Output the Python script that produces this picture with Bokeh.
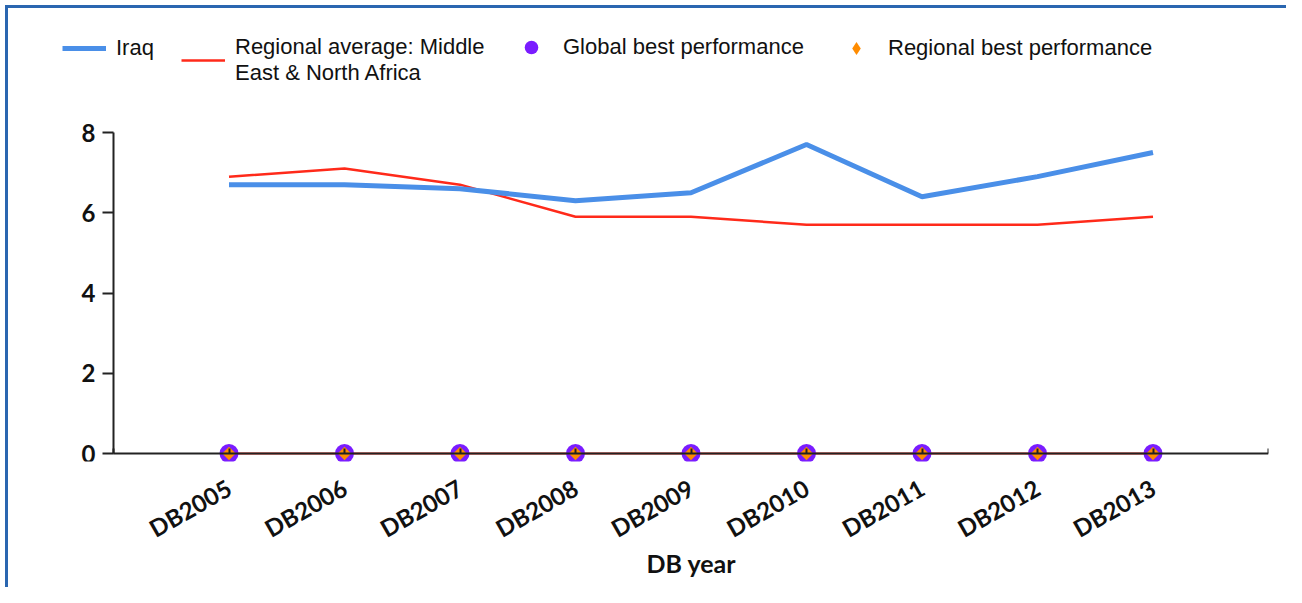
from bokeh.plotting import figure
from bokeh.models import (Range1d, FixedTicker, Legend, LegendItem, ColumnDataSource,
                          LinearAxis, Title)
from bokeh.embed import file_html
from bokeh.resources import INLINE

years = ["DB2005", "DB2006", "DB2007", "DB2008", "DB2009", "DB2010", "DB2011", "DB2012", "DB2013"]
iraq = [6.7, 6.7, 6.6, 6.3, 6.5, 7.7, 6.4, 6.9, 7.5]
regional_avg = [6.9, 7.1, 6.7, 5.9, 5.9, 5.7, 5.7, 5.7, 5.9]
global_best = [0, 0, 0, 0, 0, 0, 0, 0, 0]
regional_best = [0, 0, 0, 0, 0, 0, 0, 0, 0]
y_ticks = [0, 2, 4, 6, 8]

xpos = list(range(1, len(years) + 1))
src = ColumnDataSource(dict(x=xpos, iraq=iraq, reg=regional_avg, gb=global_best, rb=regional_best))

W, H = 1286, 587
FL, FR, FT, FB = 50, 1268, 25, 461          # frame edges in pixels
AX0, AXR, Y0, Y8 = 113, 1268, 453, 132      # axis pixel positions
n = len(years) + 1
pxu = (AXR - AX0) / n
pyu = (Y0 - Y8) / 8.0
x_start = -(AX0 - FL) / pxu
y_end = 8 + (Y8 - FT) / pyu
y_start = -(FB - Y0) / pyu

p = figure(width=W, height=H, output_backend="svg", toolbar_location=None,
           x_range=Range1d(x_start, n), y_range=Range1d(y_start, y_end),
           min_border_left=FL, min_border_right=W - FR, min_border_top=FT,
           min_border_bottom=H - FB)
p.border_fill_color = None
p.background_fill_color = None
p.styles = {
    "background-color": "white",
    "background-image": "linear-gradient(#2a66b0,#2a66b0), linear-gradient(#2a66b0,#2a66b0)",
    "background-size": "3px 100%, 100% 3px",
    "background-position": "5px 5px, 5px 5px",
    "background-repeat": "no-repeat",
}
p.outline_line_color = None
p.xgrid.visible = False
p.ygrid.visible = False

r_reg = p.line("x", "reg", source=src, line_color="#ff2a1a", line_width=2.5)
r_iraq = p.line("x", "iraq", source=src, line_color="#4a8fe8", line_width=5)
r_zero = p.line("x", "gb", source=src, line_color="#ff2a1a", line_width=2)
r_gb = p.scatter("x", "gb", source=src, marker="circle", size=19, fill_color="#7a1cff",
                 line_color=None)
# legend key for the regional best (covered in the plot by the rotated square below)
r_rb_key = p.scatter("x", "rb", source=src, marker="diamond", size=11,
                     fill_color="#ff8c00", line_color=None)
r_rb = p.scatter("x", "rb", source=src, marker="square", angle=0.785398, size=9.5,
                 fill_color="#ff8c00", line_color=None)

# x axis (labels only) at the frame bottom
xa = p.xaxis[0]
xa.ticker = FixedTicker(ticks=xpos)
xa.major_label_overrides = {i + 1: y for i, y in enumerate(years)}
xa.major_label_orientation = 0.52
xa.major_tick_out = 0
xa.major_tick_in = 0
xa.minor_tick_line_color = None
xa.axis_line_color = None
xa.major_tick_line_color = None
xa.major_label_text_font = "Lato"
xa.major_label_text_font_style = "bold"
xa.major_label_text_font_size = "24px"
xa.major_label_text_color = "#111111"
xa.major_label_standoff = 24

# x axis line and ticks at y = 0 (no labels)
xline = LinearAxis(fixed_location=0, bounds=(0, n),
                   ticker=FixedTicker(ticks=list(range(0, n + 1))))
xline.major_label_text_font_size = "0px"
xline.major_label_text_color = None
xline.major_label_standoff = 0
xline.major_tick_out = 5
xline.major_tick_in = 0
xline.minor_tick_line_color = None
xline.axis_line_color = "#222222"
xline.axis_line_width = 2
xline.major_tick_line_color = "#222222"
xline.major_tick_line_width = 2
p.add_layout(xline, "above")

title_kw = dict(text="DB year", align="left", offset=596, vertical_align="top",
                text_font="Lato", text_font_style="bold", text_font_size="25px",
                text_color="#111111")
try:
    xtitle = Title(standoff=-22, **title_kw)
except Exception:
    xtitle = Title(standoff=0, **title_kw)
p.add_layout(xtitle, "below")

# y axis inside the frame at x = 0
ya = p.yaxis[0]
ya.fixed_location = 0
ya.ticker = FixedTicker(ticks=y_ticks)
ya.bounds = (0, 8)
ya.major_tick_out = 11
ya.major_tick_in = 0
ya.minor_tick_line_color = None
ya.axis_line_color = "#222222"
ya.axis_line_width = 2
ya.major_tick_line_color = "#222222"
ya.major_tick_line_width = 2
ya.major_label_text_font = "Lato"
ya.major_label_text_font_style = "bold"
ya.major_label_text_font_size = "24px"
ya.major_label_text_color = "#111111"
ya.major_label_standoff = 7


def make_legend(items, loc, gh):
    lg = Legend(items=items, orientation="horizontal", location=loc)
    lg.padding = 0
    lg.margin = 0
    lg.border_line_color = None
    lg.background_fill_alpha = 0
    lg.spacing = 29
    lg.label_standoff = 10
    lg.glyph_width = 44
    lg.glyph_height = gh
    lg.label_text_font = "Liberation Sans"
    lg.label_text_font_size = "22px"
    lg.label_text_color = "#111111"
    lg.label_text_line_height = 1.1
    p.add_layout(lg, "center")


make_legend([LegendItem(label="Iraq", renderers=[r_iraq])], (12, 400), 20)
make_legend([LegendItem(label="Regional average: Middle\nEast & North Africa",
                        renderers=[r_reg])], (131, 375), 20)
make_legend([LegendItem(label="Global best performance", renderers=[r_gb])],
            (459, 397), 34)
make_legend([LegendItem(label="Regional best performance", renderers=[r_rb_key])],
            (784, 397), 32)

open("out.html", "w").write(file_html(p, INLINE))
